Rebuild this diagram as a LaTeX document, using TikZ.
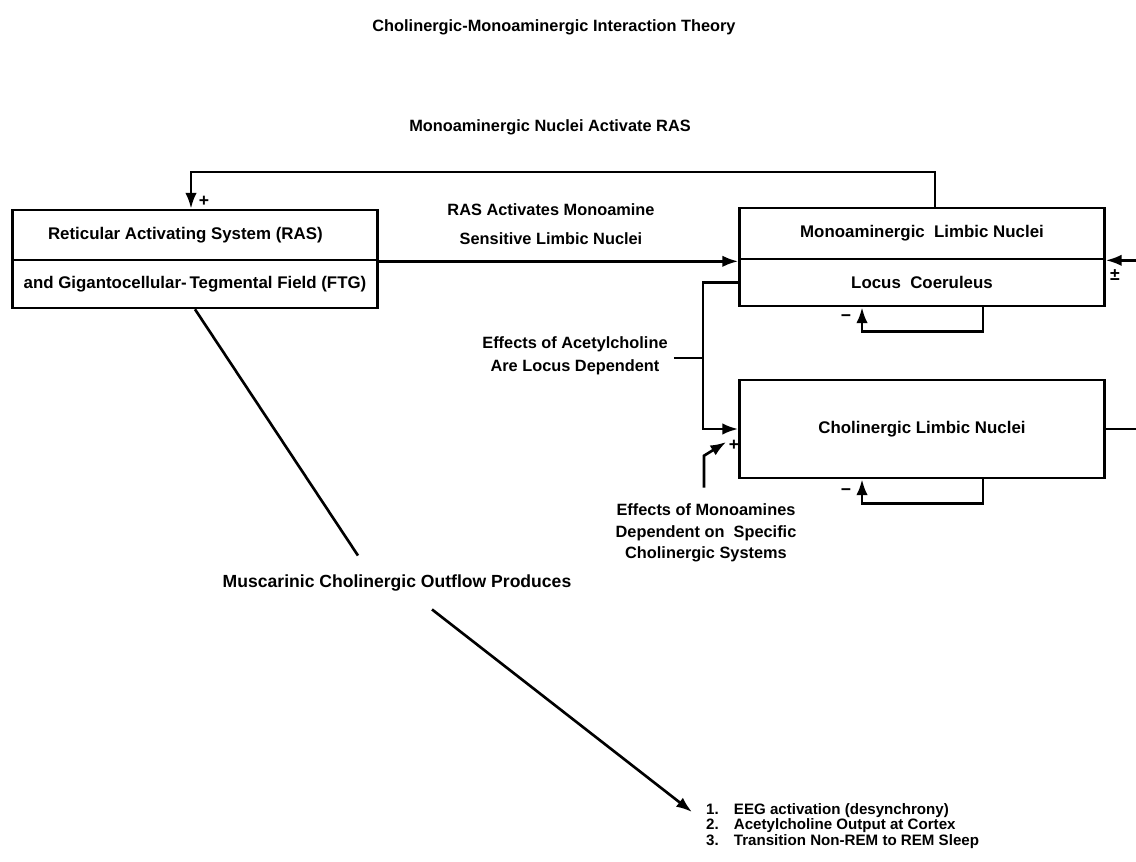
\documentclass[tikz,border=0pt]{standalone}
\usepackage{fontspec}
\setsansfont{Liberation Sans}
\usetikzlibrary{arrows.meta, positioning, calc}

\begin{document}
\begin{tikzpicture}[x=0.02cm, y=-0.02cm,
  box/.style={draw, line width=1.5pt, minimum width=7.3cm, inner sep=0pt,
    font=\fontsize{9.6}{11}\sffamily\bfseries},
  lbl/.style={font=\fontsize{9.3}{13}\sffamily\bfseries, align=center},
  sign/.style={font=\fontsize{10}{10}\sffamily\bfseries, inner sep=0pt},
  wire/.style={line width=1.5pt},
  arr/.style={wire, -{Latex[length=9pt,width=6.5pt]}}]
\useasboundingbox (0,0) rectangle (1136,862);

% boxes
\node[box, minimum height=1cm] (ras) at (195,235) {Reticular Activating System (RAS)\hspace*{11pt}};
\node[box, minimum height=0.96cm, below=-1.5pt of ras] (ftg) {and Gigantocellular-\,Tegmental Field (FTG)};
\node[box, minimum height=1.02cm] (mln) at (922,233.5) {Monoaminergic\ \ Limbic Nuclei};
\node[box, minimum height=0.94cm, below=-1.5pt of mln] (lc) {Locus\ \ Coeruleus};
\node[box, minimum height=1.96cm] (chl) at (922,429) {Cholinergic Limbic Nuclei};

% labels
\node[lbl] (title) at (554,27) {Cholinergic-Monoaminergic Interaction Theory};
\node[lbl] (act) at (550,127) {Monoaminergic Nuclei Activate RAS};
\node[lbl] (sens) at (551,224) {RAS Activates Monoamine\\[3.5pt]Sensitive Limbic Nuclei};
\node[lbl] (effach) at (575,356) {Effects of Acetylcholine\\Are Locus Dependent};
\node[lbl] (effma) at (706,533) {Effects of Monoamines\\[-0.8pt]Dependent on\ \ Specific\\[-0.8pt]Cholinergic Systems};
\node[lbl, font=\fontsize{10}{13}\sffamily\bfseries] (mus) at (397,583) {Muscarinic Cholinergic Outflow Produces};
\node[font=\fontsize{8.6}{7.8}\sffamily\bfseries, align=left, anchor=west] (out) at (700,826)
  {1.\quad EEG activation (desynchrony)\\2.\quad Acetylcholine Output at Cortex\\3.\quad Transition Non-REM to REM Sleep};

% connectors
\coordinate (loop) at (560,172);
\draw[arr] ($(mln.north)+(13,0)$) |- (loop) -| ($(ras.north)+(-4,0)$);
\node[sign] (p1) at (204,201) {+};
\draw[arr] (ras.south east) -- (ras.south east -| mln.west);
\coordinate (rin) at (1136,259);
\draw[arr] (rin |- mln.south east) -- (mln.south east);
\node[sign] (p2) at (1115,275) {±};
\coordinate (rout) at (1136,430);
\draw[wire] (chl.east) -- (chl.east -| rout);
\coordinate (brk) at (703,358);
\draw[arr] (lc.west) -| (brk) |- (chl.west);
\draw[wire] (brk -| effach.east) -- (brk);
\draw[arr] ($(effma.north)+(-2,-10)$) -- ++(0,-32) -- ($(chl.west)+(-12,13)$);
\node[sign] (p3) at (734,445) {+};
\draw[arr] ($(lc.south)+(61,0)$) -- ++(0,24) -| ($(lc.south)+(-60,0)$);
\node[sign] (m1) at (846,318) {−};
\draw[arr] ($(chl.south)+(61,0)$) -- ++(0,24) -| ($(chl.south)+(-60,0)$);
\node[sign] (m2) at (846,492) {−};
\draw[wire] (ftg.south) -- ($(mus.north)+(-39,-13)$);
\draw[arr] ($(mus.south)+(35,12)$) -- ($(out.west)+(-8,-14)$);
\end{tikzpicture}
\end{document}
